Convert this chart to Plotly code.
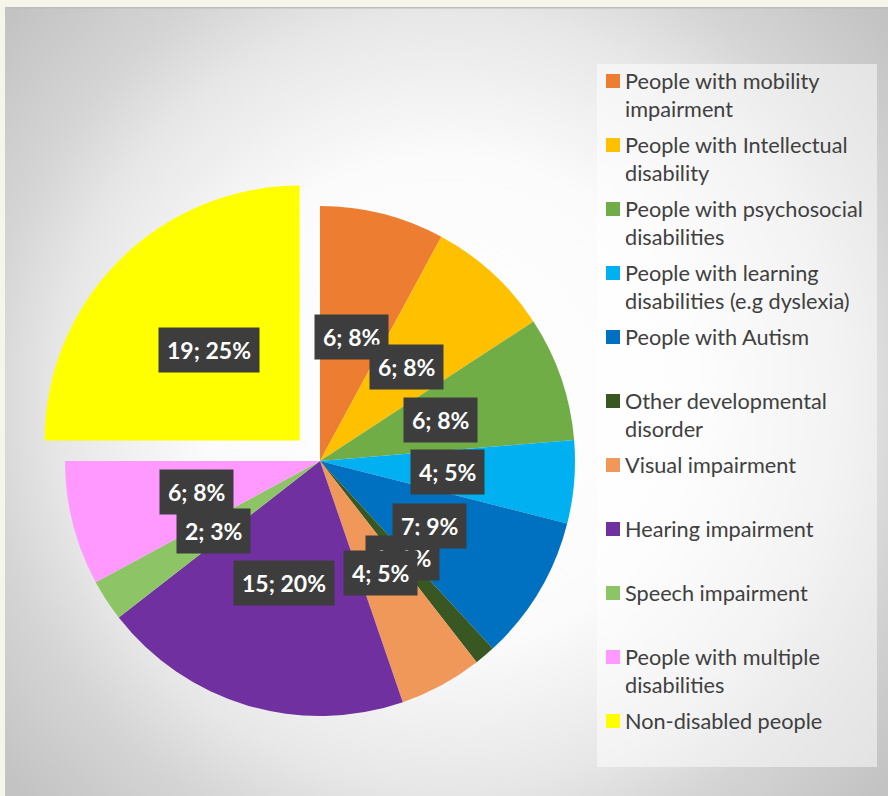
import base64
import math
import plotly.graph_objects as go

# ---- data -------------------------------------------------------------
categories = [
    "People with mobility impairment",
    "People with Intellectual disability",
    "People with psychosocial disabilities",
    "People with learning disabilities (e.g dyslexia)",
    "People with Autism",
    "Other developmental disorder",
    "Visual impairment",
    "Hearing impairment",
    "Speech impairment",
    "People with multiple disabilities",
    "Non-disabled people",
]
legend_text = [
    "People with mobility<br>impairment",
    "People with Intellectual<br>disability",
    "People with psychosocial<br>disabilities",
    "People with learning<br>disabilities (e.g dyslexia)",
    "People with Autism",
    "Other developmental<br>disorder",
    "Visual impairment",
    "Hearing impairment",
    "Speech impairment",
    "People with multiple<br>disabilities",
    "Non-disabled people",
]
counts = [6, 6, 6, 4, 7, 1, 4, 15, 2, 6, 19]
colors = [
    "#ED7D31", "#FFC000", "#70AD47", "#00B0F0", "#0070C0", "#385723",
    "#F0975A", "#7030A0", "#8CC466", "#FF99FF", "#FFFF00",
]
pulls = [0, 0, 0, 0, 0, 0, 0, 0, 0, 0, 0.113]

# ---- layout geometry (pixels) ------------------------------------------
W, H = 888, 796
CX, CY, R = 320, 461, 255          # pie centre and radius
max_pull = max(pulls)
half_box = R * (1 + max_pull)

def px_x(x):
    return x / W

def px_y(y):
    return 1 - y / H

dom_x = [px_x(CX - half_box), px_x(CX + half_box)]
dom_y = [px_y(CY + half_box), px_y(CY - half_box)]

# ---- background panel: soft radial grey gradient -----------------------
PX0, PY0 = 5, 7
PW, PH = W - PX0, H - PY0
svg = f"""<svg xmlns="http://www.w3.org/2000/svg" width="{PW}" height="{PH}" viewBox="0 0 {PW} {PH}">
<defs><radialGradient id="g" gradientUnits="userSpaceOnUse" cx="{PW/2:.0f}" cy="{PH/2:.0f}" r="580">
<stop offset="0" stop-color="#ffffff"/>
<stop offset="0.42" stop-color="#fbfbfb"/>
<stop offset="0.67" stop-color="#e7e7e7"/>
<stop offset="0.80" stop-color="#d5d5d5"/>
<stop offset="1" stop-color="#c3c3c3"/>
</radialGradient></defs>
<rect width="{PW}" height="{PH}" fill="url(#g)"/>
<rect width="{PW}" height="1.5" fill="#bdbdbd"/>
</svg>"""
bg_src = "data:image/svg+xml;base64," + base64.b64encode(svg.encode()).decode()

fig = go.Figure()
fig.add_trace(go.Pie(
    labels=categories,
    values=counts,
    marker=dict(colors=colors, line=dict(width=0)),
    pull=pulls,
    sort=False,
    direction="clockwise",
    rotation=0,
    textinfo="none",
    hovertemplate="%{label}: %{value} (%{percent})<extra></extra>",
    domain=dict(x=dom_x, y=dom_y),
    showlegend=False,
))

# ---- data labels: value; percent in dark boxes --------------------------
total = sum(counts)
annotations = []
cum = 0
for val, pull in zip(counts, pulls):
    mid = (cum + val / 2) / total * 2 * math.pi
    cum += val
    ox = CX + pull * R * math.sin(mid)
    oy = CY - pull * R * math.cos(mid)
    lx = ox + 0.5 * R * math.sin(mid)
    ly = oy - 0.5 * R * math.cos(mid)
    pct = round(val / total * 100)
    annotations.append(dict(
        x=px_x(lx), y=px_y(ly), xref="paper", yref="paper",
        xanchor="center", yanchor="middle",
        text=f"<b>{val}; {pct}%</b>", showarrow=False,
        font=dict(family="Lato", size=23, color="#ffffff"),
        bgcolor="#3d3d3d", borderpad=8,
    ))

# ---- legend panel -------------------------------------------------------
shapes = [dict(
    type="rect", xref="paper", yref="paper",
    x0=px_x(597), x1=px_x(877), y0=px_y(767), y1=px_y(64),
    fillcolor="rgba(255,255,255,0.5)", line=dict(width=0), layer="below",
)]
LEG_TOP, LEG_STEP, LINE_H = 81, 64, 28
for i, (txt, col) in enumerate(zip(legend_text, colors)):
    yc = LEG_TOP + LEG_STEP * i
    shapes.append(dict(
        type="rect", xref="paper", yref="paper",
        x0=px_x(606), x1=px_x(620), y0=px_y(yc + 7), y1=px_y(yc - 7),
        fillcolor=col, line=dict(width=0),
    ))
    nlines = txt.count("<br>") + 1
    annotations.append(dict(
        x=px_x(623), y=px_y(yc + (nlines - 1) * LINE_H / 2),
        xref="paper", yref="paper", xanchor="left", yanchor="middle",
        text=txt, align="left", showarrow=False,
        font=dict(family="Lato", size=21.7, color="#404040"),
    ))

fig.update_layout(
    width=W, height=H,
    margin=dict(l=0, r=0, t=0, b=0),
    paper_bgcolor="#F5F5EA",
    plot_bgcolor="rgba(0,0,0,0)",
    images=[dict(
        source=bg_src, xref="paper", yref="paper",
        x=px_x(PX0), y=px_y(PY0), sizex=PW / W, sizey=PH / H,
        xanchor="left", yanchor="top", sizing="stretch", layer="below",
    )],
    shapes=shapes,
    annotations=annotations,
    showlegend=False,
)

fig.write_html("out.html")
